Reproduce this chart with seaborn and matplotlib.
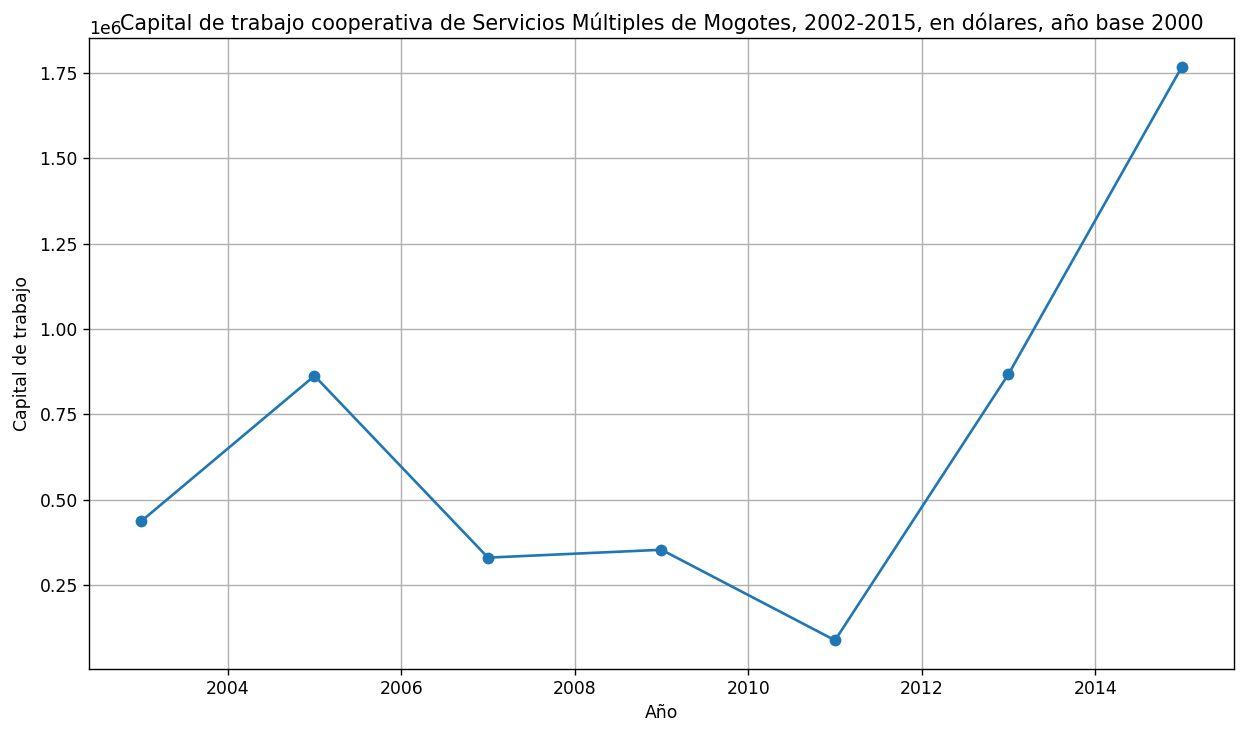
import matplotlib
matplotlib.use("Agg")
import matplotlib.pyplot as plt
import seaborn as sns
import pandas as pd

years = [2003, 2005, 2007, 2009, 2011, 2013, 2015]
capital = [437000, 863000, 331000, 354000, 89000, 868000, 1768000]

df = pd.DataFrame({"Año": years, "Capital de trabajo": capital})

plt.rcParams["font.size"] = 12.4

fig = plt.figure(figsize=(12.44, 7.29), dpi=100)
ax = fig.add_axes([0.0715, 0.0823, 0.9205, 0.8657])
sns.lineplot(data=df, x="Año", y="Capital de trabajo", marker="o", markersize=8.5,
             markeredgewidth=0, color="#1f77b4", linewidth=1.9, ax=ax)
ax.grid(True, color="#b0b0b0", linewidth=1.0)
ax.tick_params(labelsize=12.4, length=4.5, width=1.0)
for s in ax.spines.values():
    s.set_linewidth(1.0)
ax.set_title("Capital de trabajo cooperativa de Servicios Múltiples de Mogotes, 2002-2015, en dólares, año base 2000",
             fontsize=14.85, y=1.0, pad=6)
ax.set_xlabel("Año", fontsize=12.4)
ax.set_ylabel("Capital de trabajo", fontsize=12.4, labelpad=6)
ax.yaxis.get_offset_text().set_fontsize(12.4)
fig.savefig("out.png", dpi=100)
